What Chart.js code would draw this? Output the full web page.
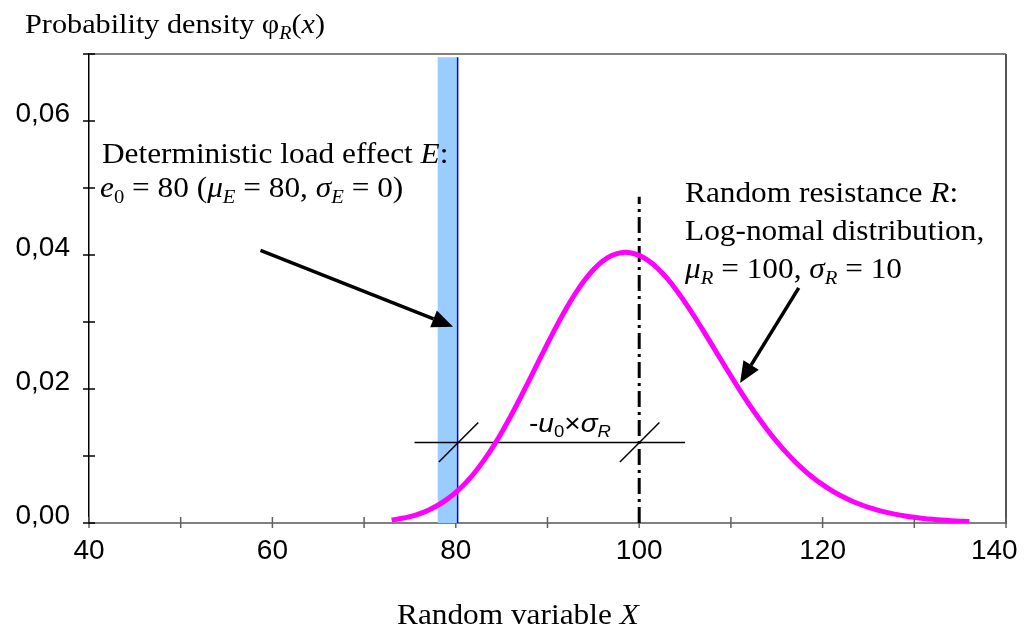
<!DOCTYPE html>
<html lang="en">
<head>
<meta charset="UTF-8" />
<title>Probability density</title>
<script src="https://cdn.jsdelivr.net/npm/chart.js@4.4.1/dist/chart.umd.min.js"></script>
<style>
  html, body { margin: 0; padding: 0; background: #fff; }
</style>
</head>
<body>
<canvas id="myChart" width="1025" height="629"></canvas>
<script>
// random resistance R, log-normal
const xR = [73, 74, 75, 76, 77, 78, 79, 80, 81, 82, 83, 84, 85, 86, 87, 88, 89, 90, 91, 92, 93, 94, 95, 96,
  97, 98, 99, 100, 101, 102, 103, 104, 105, 106, 107, 108, 109, 110, 111, 112, 113, 114, 115, 116, 117, 118,
  119, 120, 121, 122, 123, 124, 125, 126, 127, 128, 129, 130, 131, 132, 133, 134, 135, 136];
const densityR = [0.00044, 0.00066, 0.00096, 0.00137, 0.00191, 0.00261, 0.00349, 0.00457, 0.00588, 0.00743,
  0.00923, 0.01126, 0.01352, 0.01597, 0.01858, 0.02129, 0.02404, 0.02678, 0.02943, 0.03192, 0.03418, 0.03616,
  0.03780, 0.03906, 0.03991, 0.04034, 0.04035, 0.03994, 0.03916, 0.03802, 0.03657, 0.03486, 0.03294, 0.03086,
  0.02867, 0.02643, 0.02417, 0.02194, 0.01976, 0.01767, 0.01570, 0.01385, 0.01214, 0.01057, 0.00915, 0.00787,
  0.00673, 0.00572, 0.00483, 0.00406, 0.00340, 0.00283, 0.00234, 0.00193, 0.00158, 0.00129, 0.00105, 0.00085,
  0.00068, 0.00055, 0.00044, 0.00035, 0.00028, 0.00022];

// deterministic load effect E (band)
const bandX = [78, 80.2];
const bandTop = 0.0695;

// mean of R and the -u0*sigmaR dimension line
const meanR = 100;
const meanLineTop = 0.0487;
const dimY = 0.012;
const dimX = [75.5, 105];
const slashA = [[78.15, 0.0091], [82.45, 0.0150]];
const slashB = [[97.9, 0.0091], [102.2, 0.0150]];

// arrows [x0, y0, x1 (tip), y1]
const arrows = [
  [58.7, 0.0407, 79.7, 0.0293],
  [117.4, 0.0351, 111.0, 0.0209]
];

const serif = "'Liberation Serif', 'Times New Roman', serif";
const sans = "'Liberation Sans', Arial, sans-serif";

function pts(xs, ys) {
  return xs.map((x, i) => ({ x: x, y: ys[i] }));
}

// draw text made of pieces: [text, style] with style '', 'i', 's' (sub), 'si' (italic sub)
function rich(ctx, x, y, parts, size, family, sx) {
  ctx.save();
  ctx.translate(x, y);
  ctx.scale(sx, 1);
  ctx.fillStyle = '#000';
  ctx.textBaseline = 'alphabetic';
  ctx.textAlign = 'left';
  let cx = 0;
  parts.forEach(p => {
    const t = p[0], st = p[1] || '';
    const sub = st.indexOf('s') >= 0;
    const it = st.indexOf('i') >= 0;
    const fs = sub ? size * 0.66 : size;
    ctx.font = (it ? 'italic ' : '') + fs + 'px ' + family;
    ctx.fillText(t, cx, sub ? size * 0.2 : 0);
    cx += ctx.measureText(t).width;
  });
  ctx.restore();
}

function arrow(ctx, x0, y0, x1, y1) {
  const a = Math.atan2(y1 - y0, x1 - x0);
  const len = 21, hw = 9;
  const bx = x1 - len * Math.cos(a), by = y1 - len * Math.sin(a);
  ctx.save();
  ctx.strokeStyle = '#000';
  ctx.fillStyle = '#000';
  ctx.lineWidth = 3.5;
  ctx.beginPath();
  ctx.moveTo(x0, y0);
  ctx.lineTo(bx, by);
  ctx.stroke();
  ctx.beginPath();
  ctx.moveTo(x1, y1);
  ctx.lineTo(bx + hw * Math.sin(a), by - hw * Math.cos(a));
  ctx.lineTo(bx - hw * Math.sin(a), by + hw * Math.cos(a));
  ctx.closePath();
  ctx.fill();
  ctx.restore();
}

const frame = {
  id: 'frame',
  beforeDatasetsDraw(chart) {
    const ctx = chart.ctx, a = chart.chartArea;
    const xs = chart.scales.x, ys = chart.scales.y;
    ctx.save();
    ctx.strokeStyle = '#808080';
    ctx.lineWidth = 2;
    ctx.beginPath();
    ctx.moveTo(a.left, a.top);
    ctx.lineTo(a.right, a.top);
    ctx.stroke();
    ctx.strokeStyle = '#555';
    ctx.beginPath();
    ctx.moveTo(a.right, a.top);
    ctx.lineTo(a.right, a.bottom);
    ctx.stroke();
    // tick marks crossing the axes
    ctx.lineWidth = 1.5;
    ctx.strokeStyle = '#606060';
    xs.ticks.forEach(t => {
      const px = xs.getPixelForValue(t.value);
      ctx.beginPath();
      ctx.moveTo(px, a.bottom - 6);
      ctx.lineTo(px, a.bottom + 5);
      ctx.stroke();
    });
    ctx.strokeStyle = '#000';
    ys.ticks.forEach(t => {
      const py = ys.getPixelForValue(t.value);
      ctx.beginPath();
      ctx.moveTo(a.left - 6, py);
      ctx.lineTo(a.left + 6, py);
      ctx.stroke();
    });
    ctx.restore();
  },
  afterDraw(chart) {
    const ctx = chart.ctx;
    const xs = chart.scales.x, ys = chart.scales.y;
    arrows.forEach(r => {
      arrow(ctx, xs.getPixelForValue(r[0]), ys.getPixelForValue(r[1]),
        xs.getPixelForValue(r[2]), ys.getPixelForValue(r[3]));
    });
    const sx = 1.08;
    rich(ctx, 25, 33, [['Probability density φ'], ['R', 'si'], ['('], ['x', 'i'], [')']], 28, serif, sx);
    rich(ctx, 102, 163, [['Deterministic load effect '], ['E', 'i'], [':']], 29, serif, sx);
    rich(ctx, 100, 197, [['e', 'i'], ['0', 's'], [' = 80 ('], ['μ', 'i'], ['E', 'si'], [' = 80, '],
      ['σ', 'i'], ['E', 'si'], [' = 0)']], 29, serif, sx);
    rich(ctx, 685, 202, [['Random resistance '], ['R', 'i'], [':']], 29, serif, sx);
    rich(ctx, 685, 240, [['Log-nomal distribution,']], 29, serif, sx);
    rich(ctx, 685, 278, [['μ', 'i'], ['R', 'si'], [' = 100, '], ['σ', 'i'], ['R', 'si'], [' = 10']], 29, serif, sx);
    rich(ctx, 397, 624, [['Random variable '], ['X', 'i']], 29, serif, sx);
    rich(ctx, 529, 432, [['-'], ['u', 'i'], ['0', 's'], ['×'], ['σ', 'i'], ['R', 'si']], 26, sans, sx);
  }
};

const ctx = document.getElementById('myChart');
new Chart(ctx, {
  type: 'scatter',
  data: {
    datasets: [
      {
        data: pts(xR, densityR),
        showLine: true,
        borderColor: '#FF00FF',
        borderWidth: 5,
        pointRadius: 0,
        tension: 0.3,
        order: 1
      },
      {
        data: [{ x: meanR, y: 0 }, { x: meanR, y: meanLineTop }],
        showLine: true,
        borderColor: '#000',
        borderWidth: 3,
        borderDash: [16, 5, 3, 5],
        pointRadius: 0,
        order: 2
      },
      {
        data: [{ x: dimX[0], y: dimY }, { x: dimX[1], y: dimY }],
        showLine: true,
        borderColor: '#000',
        borderWidth: 1.5,
        pointRadius: 0,
        order: 2
      },
      {
        data: slashA.map(p => ({ x: p[0], y: p[1] })),
        showLine: true,
        borderColor: '#000',
        borderWidth: 1.5,
        pointRadius: 0,
        order: 2
      },
      {
        data: slashB.map(p => ({ x: p[0], y: p[1] })),
        showLine: true,
        borderColor: '#000',
        borderWidth: 1.5,
        pointRadius: 0,
        order: 2
      },
      {
        data: [{ x: bandX[1], y: 0 }, { x: bandX[1], y: bandTop }],
        showLine: true,
        borderColor: '#0000FF',
        borderWidth: 1.5,
        pointRadius: 0,
        order: 9
      },
      {
        data: [{ x: bandX[0], y: bandTop }, { x: bandX[1], y: bandTop }],
        showLine: true,
        fill: 'origin',
        backgroundColor: '#99CCFF',
        borderWidth: 0,
        borderColor: 'rgba(0,0,0,0)',
        pointRadius: 0,
        order: 10
      }
    ]
  },
  options: {
    responsive: false,
    animation: false,
    layout: { padding: { top: 54, right: 19, left: 0, bottom: 0 } },
    plugins: {
      legend: { display: false },
      tooltip: { enabled: false },
      title: { display: false }
    },
    scales: {
      x: {
        type: 'linear',
        min: 40,
        max: 140,
        grid: { display: false },
        border: { display: true, color: '#808080', width: 2 },
        ticks: {
          stepSize: 10,
          padding: 3,
          color: '#000',
          font: { family: sans, size: 28 },
          maxRotation: 0,
          autoSkip: false,
          // last label kept inside the page, as in the original
          callback: v => (v % 20 !== 0 ? '' : (v === 140 ? '140   ' : String(v)))
        },
        afterFit: s => { s.height = 106; s.paddingLeft = 0; s.paddingRight = 0; }
      },
      y: {
        min: 0,
        max: 0.07,
        grid: { display: false },
        border: { display: true, color: '#000', width: 1.5 },
        ticks: {
          stepSize: 0.01,
          padding: 11,
          labelOffset: -7,
          color: '#000',
          font: { family: sans, size: 28 },
          autoSkip: false,
          callback: v => (Math.round(v * 100) % 2 === 0 ? v.toFixed(2).replace('.', ',') : '')
        },
        afterFit: s => { s.width = 89; s.paddingTop = 0; s.paddingBottom = 0; }
      }
    }
  },
  plugins: [frame]
});
</script>
</body>
</html>
